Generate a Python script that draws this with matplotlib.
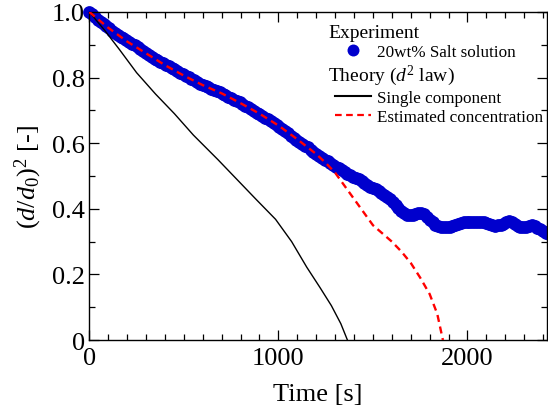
import matplotlib
matplotlib.use("Agg")
import matplotlib.pyplot as plt
from matplotlib.lines import Line2D
from matplotlib.ticker import MultipleLocator

plt.rcParams['font.family'] = ['Liberation Serif', 'DejaVu Serif']
plt.rcParams['mathtext.fontset'] = 'custom'
plt.rcParams['mathtext.rm'] = 'Liberation Serif'
plt.rcParams['mathtext.it'] = 'Liberation Serif:italic'

# Experiment: 20wt% salt solution (time [s], (d/d0)^2)
exp_t = [0, 15, 30, 45, 60, 75, 90, 105, 120, 135, 150, 165, 180, 195, 210, 225,
         240, 255, 270, 285, 300, 315, 330, 345, 360, 375, 390, 405, 420, 435, 450,
         465, 480, 495, 510, 525, 540, 555, 570, 585, 600, 615, 630, 645, 660, 675,
         690, 705, 720, 735, 750, 765, 780, 795, 810, 825, 840, 855, 870, 885, 900,
         915, 930, 945, 960, 975, 990, 1005, 1020, 1035, 1050, 1065, 1080, 1095,
         1110, 1125, 1140, 1155, 1170, 1185, 1200, 1215, 1230, 1245, 1260, 1275,
         1290, 1305, 1320, 1335, 1350, 1365, 1380, 1395, 1410, 1425, 1440, 1455,
         1470, 1485, 1500, 1515, 1530, 1545, 1560, 1575, 1590, 1605, 1620, 1635,
         1650, 1665, 1680, 1695, 1710, 1725, 1740, 1755, 1770, 1785, 1800, 1815,
         1830, 1845, 1860, 1875, 1890, 1905, 1920, 1935, 1950, 1965, 1980, 1995,
         2010, 2025, 2040, 2055, 2070, 2085, 2100, 2115, 2130, 2145, 2160, 2175,
         2190, 2205, 2220, 2235, 2250, 2265, 2280, 2295, 2310, 2325, 2340, 2355,
         2370, 2385, 2400, 2415, 2430]
exp_v = [1.000, 0.993, 0.985, 0.977, 0.970, 0.963, 0.957, 0.950, 0.943, 0.937,
         0.930, 0.925, 0.920, 0.914, 0.909, 0.903, 0.898, 0.892, 0.886, 0.880,
         0.874, 0.868, 0.862, 0.857, 0.853, 0.848, 0.843, 0.838, 0.834, 0.829,
         0.825, 0.820, 0.815, 0.810, 0.806, 0.801, 0.797, 0.792, 0.787, 0.782,
         0.778, 0.774, 0.770, 0.766, 0.762, 0.758, 0.755, 0.750, 0.746, 0.742,
         0.738, 0.733, 0.729, 0.725, 0.720, 0.714, 0.709, 0.703, 0.698, 0.693,
         0.688, 0.683, 0.678, 0.673, 0.667, 0.661, 0.654, 0.648, 0.642, 0.636,
         0.630, 0.623, 0.617, 0.611, 0.605, 0.599, 0.593, 0.587, 0.580, 0.573,
         0.566, 0.561, 0.556, 0.550, 0.545, 0.540, 0.534, 0.529, 0.523, 0.517,
         0.512, 0.507, 0.503, 0.498, 0.494, 0.490, 0.485, 0.479, 0.474, 0.468,
         0.463, 0.459, 0.454, 0.449, 0.443, 0.437, 0.430, 0.421, 0.412, 0.403,
         0.394, 0.386, 0.380, 0.380, 0.382, 0.385, 0.388, 0.387, 0.383, 0.375,
         0.367, 0.359, 0.352, 0.347, 0.345, 0.344, 0.344, 0.345, 0.347, 0.351,
         0.354, 0.358, 0.360, 0.361, 0.361, 0.361, 0.360, 0.360, 0.360, 0.359,
         0.357, 0.353, 0.350, 0.349, 0.350, 0.352, 0.355, 0.360, 0.364, 0.359,
         0.353, 0.349, 0.346, 0.345, 0.345, 0.348, 0.350, 0.347, 0.342, 0.337,
         0.332, 0.327, 0.323]

# Theory: single component
single_t = [0, 80, 160, 250, 350, 450, 550, 680, 780, 880, 985, 1070, 1150, 1220,
            1280, 1330, 1365]
single_v = [1.0, 0.945, 0.885, 0.815, 0.75, 0.69, 0.625, 0.55, 0.49, 0.43, 0.368,
            0.30, 0.222, 0.16, 0.105, 0.05, 0.0]

# Theory: estimated concentration
est_t = [0, 100, 200, 300, 400, 500, 600, 700, 800, 900, 1000, 1100, 1200, 1250,
         1300, 1350, 1400, 1450, 1500, 1550, 1600, 1650, 1700, 1750, 1800, 1840, 1870]
est_v = [1.0, 0.952, 0.91, 0.874, 0.838, 0.806, 0.777, 0.752, 0.722, 0.69, 0.654,
         0.612, 0.567, 0.54, 0.51, 0.47, 0.43, 0.39, 0.35, 0.325, 0.30, 0.27, 0.235,
         0.19, 0.14, 0.08, 0.0]

fig = plt.figure(figsize=(5.48, 4.06), dpi=100)
ax = fig.add_axes([0.163, 0.160, 0.835, 0.808])

blue = '#0000CD'
ax.plot(exp_t, exp_v, linestyle='none', marker='o', markersize=9.2,
        color=blue, markeredgewidth=0, clip_on=False, zorder=2)
ax.plot(single_t, single_v, color='black', lw=1.0, zorder=3)
ax.plot(est_t, est_v, color='#FF0000', lw=1.7, dashes=(3, 2), zorder=4)

ax.set_xlim(0, 2420)
ax.set_ylim(0, 1.0)
ax.xaxis.set_minor_locator(MultipleLocator(100))
ax.yaxis.set_minor_locator(MultipleLocator(0.1))
ax.set_yticks([0, 0.2, 0.4, 0.6, 0.8, 1.0])
ax.set_yticklabels(['0', '0.2', '0.4', '0.6', '0.8', '1.0'])
ax.set_xticks([0, 1000, 2000])
ax.set_xticklabels(['0', '1000', '2000'])

ax.tick_params(which='both', direction='in', top=True, right=True,
               labelsize=19, width=0.9, pad=3)
ax.tick_params(axis='x', which='both', pad=5)
ax.tick_params(which='major', length=7)
ax.tick_params(which='minor', length=4.5)
for s in ax.spines.values():
    s.set_linewidth(1.0)

ax.set_xlabel('Time [s]', fontsize=19, labelpad=10)
ax.set_ylabel(r'$(d/d_{\mathit{0}})^2$ [-]', fontsize=19, labelpad=6)

handles = [
    Line2D([], [], linestyle='none', marker='none'),
    Line2D([], [], linestyle='none', marker='o', markersize=8.6, color=blue,
           markeredgewidth=0),
    Line2D([], [], linestyle='none', marker='none'),
    Line2D([], [], color='black', lw=1.5),
    Line2D([], [], color='#FF0000', lw=1.6, dashes=(3, 2)),
]
labels = ['Experiment', '20wt% Salt solution', r'Theory ($d^2$ law)',
          'Single component', 'Estimated concentration']
leg = ax.legend(handles, labels, loc='upper left', bbox_to_anchor=(0.537, 0.962),
                frameon=False, fontsize=12.3, borderpad=0, handlelength=2.1,
                handletextpad=0.35, labelspacing=0.16, borderaxespad=0)
texts = leg.get_texts()
for i in (0, 2):
    texts[i].set_fontsize(14)
    texts[i].set_x(-49)

fig.savefig('out.png', dpi=100)
